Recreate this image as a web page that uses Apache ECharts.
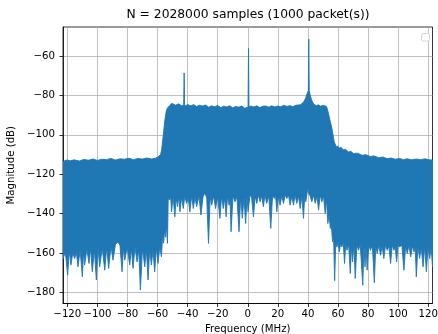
<!DOCTYPE html>
<html>
<head>
<meta charset="utf-8">
<script src="https://cdn.jsdelivr.net/npm/echarts@6/dist/echarts.min.js"></script>
<style>
  html, body { margin: 0; padding: 0; background: #fff; }
  #chart { width: 438px; height: 334px; }
</style>
</head>
<body>
<div id="chart"></div>
<script>
// spectrum drawn as a band between its upper and lower envelope
const upperFreq = [-122.88, -120.5, -118, -115.5, -112, -109, -106, -103, -100, -97, -94, -91, -88, -85, -82, -79, -76, -73, -70, -67, -64, -61.5, -60, -58, -57.3, -56.3, -55.2, -54.2, -53.5,
  -52, -50.5, -48, -46, -44, -43, -42.6, -42.3, -42.0, -41.5, -40, -38, -36, -34, -32, -30, -28, -26, -24, -22, -20, -18, -16, -14, -12, -10, -8, -6, -4, -2,
  0.2, 0.5, 0.8, 2, 4, 6, 8, 10, 12, 14, 16, 18, 20, 22, 24, 26, 28, 30, 32, 35, 37, 38.5, 39.5, 40.3, 40.6, 40.9, 41.6, 42.5, 44, 45.5, 47, 48.5, 50,
  52.4, 53.5, 54.5, 56, 57.5, 58.9, 60, 61, 62.2, 63.5, 65, 67, 68.5, 70.5, 73, 76, 78.5, 81.5, 84, 87, 90, 92.7, 95.5, 98, 101, 103.5, 106, 109, 112, 115, 118, 120.5, 122.88]
const upperDb = [-113.6, -112.8, -113.2, -112.7, -113.3, -112.5, -112.9, -112.3, -113.0, -112.4, -112.6, -112.0, -112.8, -112.2, -112.4, -111.9, -112.6, -112.0, -112.3, -111.8, -112.3, -111.9, -111.4, -110, -107.8, -101, -93, -88, -86.5,
  -85.2, -84.0, -85.0, -84.3, -85.2, -85.0, -84.5, -68.6, -84.5, -85.5, -84.6, -85.3, -84.7, -85.6, -85.0, -85.4, -84.9, -86.0, -85.3, -85.8, -85.1, -86.2, -85.5, -85.9, -85.3, -86.3, -85.6, -86.0, -85.4, -86.5,
  -86.0, -56.2, -86.0, -85.4, -85.9, -85.3, -86.2, -85.5, -85.4, -86.0, -85.3, -85.9, -85.4, -85.8, -85.0, -85.6, -85.2, -85.7, -85.0, -84.8, -83.5, -81.5, -79, -77.5, -51.5, -77.5, -80, -82.5, -84.5, -85.2, -84.8, -85.5, -85.0,
  -85.6, -88.5, -92, -96.8, -103.6, -106, -105.8, -106.8, -106.4, -107.6, -107.4, -108.7, -108.4, -109.6, -109.3, -110.4, -110.1, -111.0, -110.7, -111.6, -111.3, -112.1, -111.8, -112.4, -112.0, -112.6, -112.2, -112.7, -112.3, -112.6, -112.2, -112.7, -112.8]

const lowerFreq = [-122.88, -121.3, -119.8, -118.7, -117.6, -116.4, -115.1, -114, -112.9, -111.5, -110, -109.2, -108.5, -107, -105.6, -104.5,
  -103.4, -102, -100.7, -99.6, -98.5, -96.8, -95.1, -93.8, -92.5, -91, -89.6, -88, -86.3, -85, -83.6, -82.7, -81.8, -80.2, -78.5, -77.4,
  -76.3, -75, -73.6, -72.5, -71.4, -70, -68.5, -67.4, -66.3, -65.2, -64.1, -63, -61.9, -60.8, -59.7, -58.5, -57.4, -56.6, -56, -55.2,
  -54.5, -53.9, -53.4, -52.9, -52, -51.3, -50.7, -49.6, -48.5, -47.6, -46.7, -45.9, -45.1, -44, -42.9, -41.8, -40.7, -39.6, -38.5, -37.3,
  -36.2, -35.1, -34, -32.5, -31.1, -29.8, -28.5, -27.3, -26.1, -25, -24, -22.7, -21.4, -20, -18.5, -17.4, -16.3, -15.3, -14.4, -13.4,
  -12.4, -11.8, -11.1, -9.8, -8.5, -7.2, -5.8, -4.7, -3.6, -2.5, -1.4, -0.5, 0.2, 1.5, 2.6, 3.8, 4.9, 6, 7.1, 8.2, 9.3, 10.4, 11.5,
  12.6, 14, 15.3, 16.5, 17.8, 18.5, 19.3, 20.4, 21.5, 22.6, 23.8, 24.9, 26, 27.1, 28.2, 29.3, 30.4, 31.5, 32.6, 33.7, 34.9, 36, 37.1,
  37.9, 38.6, 39.4, 40, 40.6, 41.5, 42.6, 43.8, 44.9, 46, 47.1, 48.2, 49.3, 50.4, 51.5, 52.4, 53.3, 54.1, 54.9, 55.6, 56.4, 57.1, 57.8,
  58.5, 59.3, 60.1, 60.9, 61.8, 62.6, 63.5, 64.4, 65.2, 66, 67.1, 68.2, 69, 69.7, 70.6, 71.5, 72.6, 73.7, 74.8, 76.5, 77.3, 78, 78.7,
  79.4, 80.5, 81.6, 82.9, 84.2, 85.1, 86.1, 87.2, 88.3, 89.4, 90.5, 91.6, 92.8, 93.9, 95, 96.1, 97.2, 98.1, 99, 100, 101, 102.5, 103.9,
  105, 106.1, 107.2, 108.4, 109.5, 110.6, 111.4, 112.1, 113.2, 114.3, 115.4, 116.6, 117.7, 118.8, 119.9, 121, 122, 122.88]
const lowerDb = [-163, -159.5, -171.2, -159, -166.1, -160, -162.8, -159.5, -167, -158.5, -172, -159, -166.1, -158, -165.3, -157.5,
  -169.5, -158.5, -173.7, -157, -167, -157.5, -168.7, -157, -167.8, -156.5, -163.6, -155.5, -154.5, -156, -169.5, -157, -163.6, -157, -166.1, -157.5,
  -167.8, -157, -164.5, -158, -178.8, -157.5, -167, -158, -173.7, -158, -166.1, -158.5, -169.5, -157.5, -165.3, -157, -161.9, -151, -155, -148,
  -152, -145, -155.1, -132.3, -133.1, -131, -139.1, -131.5, -141.6, -132, -136.5, -131, -139.1, -131.5, -137.4, -131, -134.8, -132, -139.1, -131,
  -137.4, -131.5, -136.5, -131, -140.7, -131.5, -129.5, -132, -155.1, -131.5, -135.7, -131, -137.4, -131.5, -142.4, -131, -137.4, -132, -141.6, -131,
  -135.7, -131.5, -149.2, -131, -134, -131.5, -149.2, -131.5, -142.4, -132, -145, -131.5, -139.1, -130.5, -132, -141.6, -131, -134.8, -130.5, -134, -131, -136.5, -130.5,
  -134.8, -131, -147.5, -131, -132.3, -130.5, -139.1, -131, -135.7, -131, -134.8, -130.5, -132.3, -130.5, -135.7, -131, -135.7, -130.5, -134.8, -131, -137.4, -131, -142.4,
  -130.5, -134, -130, -126.5, -130, -131, -134, -130.5, -134.8, -131, -138.2, -130.5, -134, -131, -139.9, -133, -145, -140, -147.5, -146, -154.3, -152, -174,
  -155, -157, -154, -159.4, -155, -156.9, -154.5, -165.3, -155, -158.6, -155.5, -170.4, -156, -164.5, -155.5, -172.9, -156, -158.6, -155.5, -176.3, -156, -167, -156.5,
  -168.7, -156, -158.6, -156, -175.1, -156.5, -160.2, -156, -161.1, -156.5, -162.8, -156, -158.6, -156.5, -165.3, -156, -158.6, -156.5, -164.5, -156, -156.9, -156, -168.7,
  -156.5, -160.2, -156, -161.9, -156.5, -159.4, -157, -172.1, -156.5, -162.8, -157, -167, -156.5, -169.5, -157, -162.8, -157.5, -167]

const xTicks = [-120, -100, -80, -60, -40, -20, 0, 20, 40, 60, 80, 100, 120]
const yTicks = [-180, -160, -140, -120, -100, -80, -60]

const font = 'DejaVu Sans'
const minus = v => String(v).replace('-', '\u2212')

let chart = echarts.init(document.getElementById('chart'), null, { renderer: 'canvas' })
const option = {
    animation: false,
    title: {
        text: 'N = 2028000 samples (1000 packet(s))',
        left: 248,
        top: 9,
        padding: 0,
        textAlign: 'center',
        textStyle: { fontFamily: font, fontSize: 12.3, fontWeight: 'normal', color: '#000' }
    },
    grid: {
        left: 63, top: 27, width: 369.5, height: 276.5,
        outerBoundsMode: 'none',
        containLabel: false,
        show: true, borderColor: '#000', borderWidth: 0.8, backgroundColor: 'transparent'
    },
    xAxis: {
        type: 'value',
        min: -122.88,
        max: 122.88,
        name: 'Frequency (MHz)',
        nameLocation: 'middle',
        nameGap: 19.5,
        nameTextStyle: { fontFamily: font, fontSize: 10.2, color: '#000' },
        axisLine: { show: true, onZero: false, lineStyle: { color: '#000', width: 0.8 } },
        axisTick: { show: true, length: 3.5, customValues: xTicks, lineStyle: { color: '#000', width: 0.8 } },
        axisLabel: { customValues: xTicks, margin: 6, hideOverlap: false, fontFamily: font, fontSize: 10.2, color: '#000', formatter: minus },
        splitLine: { show: true, lineStyle: { color: '#b0b0b0', width: 0.8 } }
    },
    yAxis: {
        type: 'value',
        min: -185.6,
        max: -45.3,
        name: 'Magnitude (dB)',
        nameLocation: 'middle',
        nameGap: 41,
        nameTextStyle: { fontFamily: font, fontSize: 10.2, color: '#000' },
        axisLine: { show: true, onZero: false, lineStyle: { color: '#000', width: 0.8 } },
        axisTick: { show: true, length: 3.5, customValues: yTicks, lineStyle: { color: '#000', width: 0.8 } },
        axisLabel: { customValues: yTicks, margin: 8, fontFamily: font, fontSize: 10.2, color: '#000', formatter: minus },
        splitLine: { show: true, lineStyle: { color: '#b0b0b0', width: 0.8 } }
    },
    graphic: [{
        // empty legend box, top right
        type: 'rect',
        shape: { x: 421.5, y: 33.5, width: 8, height: 7.5, r: 1.5 },
        style: { fill: '#fff', stroke: '#cccccc', lineWidth: 0.8 },
        z: 100
    }],
    series: [{
        type: 'custom',
        coordinateSystem: 'cartesian2d',
        silent: true,
        clip: true,
        data: upperFreq.map((f, i) => [f, upperDb[i]]),
        encode: { x: 0, y: 1 },
        renderItem: function (params, api) {
            if (params.dataIndex !== 0) return
            let pts = []
            for (let i = 0; i < upperFreq.length; i++) pts.push(api.coord([upperFreq[i], upperDb[i]]))
            for (let i = lowerFreq.length - 1; i >= 0; i--) pts.push(api.coord([lowerFreq[i], lowerDb[i]]))
            return {
                type: 'polygon',
                shape: { points: pts },
                style: { fill: '#1f77b4', stroke: '#1f77b4', lineWidth: 0.9, lineJoin: 'miter' }
            }
        }
    }]
}
chart.setOption(option)
</script>
</body>
</html>
